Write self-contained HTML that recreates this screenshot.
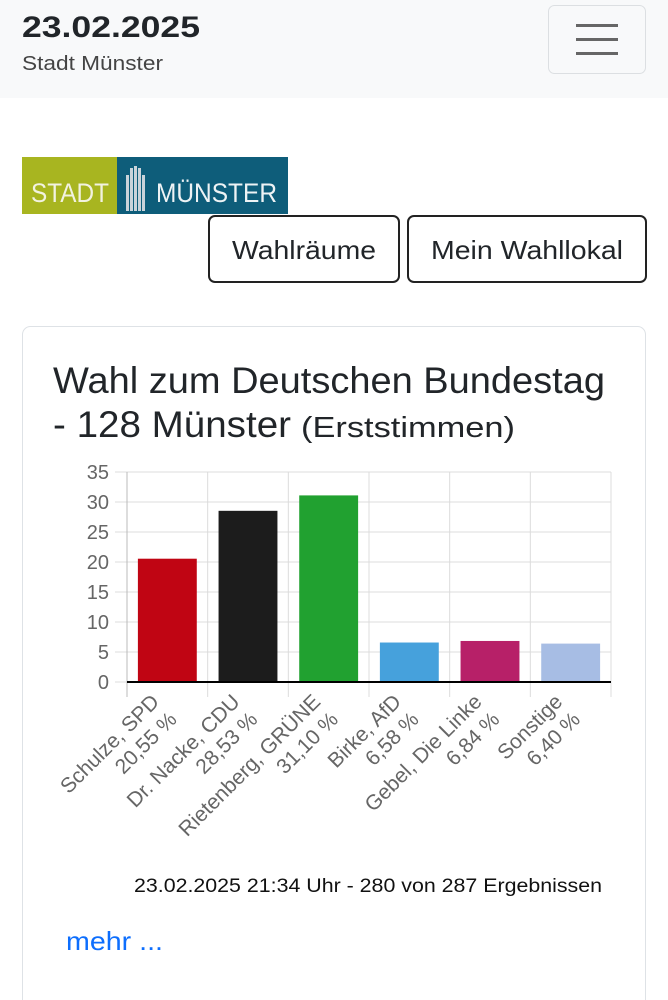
<!DOCTYPE html>
<html><head><meta charset="utf-8">
<style>
*{margin:0;padding:0;box-sizing:border-box}
body{width:668px;height:1000px;overflow:hidden;background:#fff;font-family:"Liberation Sans",sans-serif;position:relative;color:#212529}
.abs{position:absolute}
</style></head><body>
<div class="abs" style="left:0;top:0;width:668px;height:98px;background:#f8f9fa"></div>
<svg class="abs" style="left:0;top:0" width="668" height="1000">
  <text x="22" y="37" font-size="30" font-weight="bold" fill="#212529" textLength="178" lengthAdjust="spacingAndGlyphs">23.02.2025</text>
  <text x="22" y="70" font-size="20" fill="#444" textLength="141" lengthAdjust="spacingAndGlyphs">Stadt Münster</text>
  <g>
    <rect x="548.5" y="5.5" width="97" height="68" rx="6" fill="#f8f9fa" stroke="#dcdfe2"/>
    <rect x="576" y="24" width="42" height="3" fill="#666"/>
    <rect x="576" y="38" width="42" height="3" fill="#666"/>
    <rect x="576" y="52" width="42" height="3" fill="#666"/>
  </g>
  <g>
    <rect x="22" y="157" width="95" height="57" fill="#a8b520"/>
    <rect x="117" y="157" width="171" height="57" fill="#0e5d7a"/>
    <text x="31" y="202" font-size="27" fill="#f2f2e0" textLength="78" lengthAdjust="spacingAndGlyphs">STADT</text>
    <g fill="#c9d3da"><rect x="126" y="175" width="3" height="36"/><rect x="130" y="168" width="3" height="43"/><rect x="134" y="166" width="3" height="45"/><rect x="138" y="168" width="3" height="43"/><rect x="142" y="175" width="3" height="36"/></g>
    <text x="156" y="202" font-size="27" fill="#eef3f5" textLength="121" lengthAdjust="spacingAndGlyphs">MÜNSTER</text>
  </g>
  <g>
    <rect x="209" y="216" width="190" height="66" rx="6" fill="#fff" stroke="#222" stroke-width="2"/>
    <text x="304" y="259" font-size="26" text-anchor="middle" fill="#212529" textLength="144" lengthAdjust="spacingAndGlyphs">Wahlräume</text>
  </g>
  <g>
    <rect x="408" y="216" width="238" height="66" rx="6" fill="#fff" stroke="#222" stroke-width="2"/>
    <text x="527" y="259" font-size="26" text-anchor="middle" fill="#212529" textLength="192" lengthAdjust="spacingAndGlyphs">Mein Wahllokal</text>
  </g>
  <rect x="22.5" y="326.5" width="623" height="690" rx="8" fill="none" stroke="#dee2e6"/>
  <text x="53" y="393" font-size="37" fill="#212529" textLength="552" lengthAdjust="spacingAndGlyphs">Wahl zum Deutschen Bundestag</text>
  <text x="53" y="437" font-size="37" fill="#212529" textLength="238" lengthAdjust="spacingAndGlyphs">- 128 Münster</text>
  <text x="301" y="437" font-size="29" fill="#212529" textLength="214" lengthAdjust="spacingAndGlyphs">(Erststimmen)</text>
  <g id="chart"></g>
  <text x="602" y="892" font-size="19" text-anchor="end" fill="#111" textLength="468" lengthAdjust="spacingAndGlyphs">23.02.2025 21:34 Uhr - 280 von 287 Ergebnissen</text>
  <text x="66" y="950" font-size="26" fill="#0d6efd" textLength="97" lengthAdjust="spacingAndGlyphs">mehr ...</text>
</svg>
<script>
const categories=["Schulze, SPD","Dr. Nacke, CDU","Rietenberg, GRÜNE","Birke, AfD","Gebel, Die Linke","Sonstige"];
const valueLabels=["20,55 %","28,53 %","31,10 %","6,58 %","6,84 %","6,40 %"];
const values=[20.55,28.53,31.10,6.58,6.84,6.40];
const colors=["#c00513","#1c1c1c","#21a130","#46a1dc","#b72068","#a7bde4"];
const yTicks=[0,5,10,15,20,25,30,35];
const NS="http://www.w3.org/2000/svg";
const g=document.getElementById('chart');
const x0=127,x1=611,yMin=0,yMax=35,py0=682,py1=472;
const y=v=>py0-(v-yMin)/(yMax-yMin)*(py0-py1);
const bw=(x1-x0)/categories.length;
const xc=i=>x0+bw*(i+0.5);
function mk(t,a){const e=document.createElementNS(NS,t);for(const k in a)e.setAttribute(k,a[k]);g.appendChild(e);return e;}
yTicks.forEach(t=>{
  const l=mk('line',{x1:115,x2:x1,y1:y(t),y2:y(t),stroke:'#dcdcdc','stroke-width':1});
  
  
  const tx=mk('text',{x:109,y:y(t)+7,'text-anchor':'end','font-size':20,fill:'#666'});
  tx.textContent=t;
  
  
});
for(let i=0;i<=categories.length;i++){
  const l=mk('line',{x1:x0+bw*i,x2:x0+bw*i,y1:py1,y2:py0+15,stroke:i==0?'#bbb':'#dcdcdc','stroke-width':1});
  
  
}
values.forEach((v,i)=>{
  const w=bw*0.73;
  const r=mk('rect',{x:xc(i)-w/2,y:y(v),width:w,height:y(0)-y(v),fill:colors[i]});
  
  
  const t=mk('text',{transform:`translate(${xc(i)-7},703) rotate(-45)`,'text-anchor':'end','font-size':21,fill:'#666'});
  
  
  const s1=document.createElementNS(NS,'tspan');s1.setAttribute('x',0);s1.setAttribute('y',0);s1.textContent=categories[i];t.appendChild(s1);
  const s2=document.createElementNS(NS,'tspan');s2.setAttribute('x',0);s2.setAttribute('y',25);s2.textContent=valueLabels[i];t.appendChild(s2);
});
const ax=mk('line',{x1:x0,x2:x1,y1:y(0),y2:y(0),stroke:'#000','stroke-width':2});


</script>
</body></html>
